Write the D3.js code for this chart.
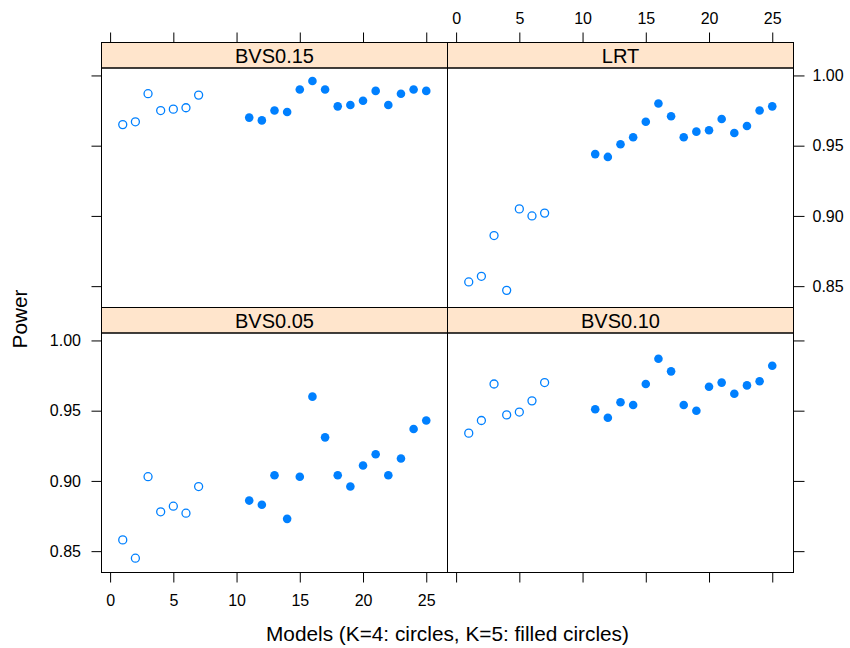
<!DOCTYPE html>
<html>
<head>
<meta charset="utf-8">
<script src="https://cdn.jsdelivr.net/npm/d3@7"></script>
<style>
  body { margin: 0; background: #fff; }
  svg { font-family: "Liberation Sans", Arial, Helvetica, sans-serif; }
  .axis text { font-size: 16px; fill: #000; }
  .axis line { stroke: #000; stroke-width: 1; }
  .strip-label { font-size: 20px; fill: #000; }
  .title { font-size: 20.8px; fill: #000; }
</style>
</head>
<body>
<div id="chart"></div>
<script>
// models: K=4 drawn as open circles, K=5 as filled circles
const modelsK4 = [1, 2, 3, 4, 5, 6, 7];
const modelsK5 = [11, 12, 13, 14, 15, 16, 17, 18, 19, 20, 21, 22, 23, 24, 25];

const panelNames = ["BVS0.05", "BVS0.10", "BVS0.15", "LRT"];

// power values
const bvs005K4 = [0.858, 0.845, 0.903, 0.878, 0.882, 0.877, 0.896];
const bvs005K5 = [0.886, 0.883, 0.904, 0.873, 0.903, 0.960, 0.931, 0.904, 0.896, 0.911, 0.919, 0.904, 0.916, 0.937, 0.943];

const bvs010K4 = [0.934, 0.943, 0.969, 0.947, 0.949, 0.957, 0.970];
const bvs010K5 = [0.951, 0.945, 0.956, 0.954, 0.969, 0.987, 0.978, 0.954, 0.950, 0.967, 0.970, 0.962, 0.968, 0.971, 0.982];

const bvs015K4 = [0.965, 0.967, 0.987, 0.975, 0.976, 0.977, 0.986];
const bvs015K5 = [0.970, 0.968, 0.975, 0.974, 0.990, 0.996, 0.990, 0.978, 0.979, 0.982, 0.989, 0.979, 0.987, 0.990, 0.989];

const lrtK4 = [0.853, 0.857, 0.886, 0.847, 0.905, 0.900, 0.902];
const lrtK5 = [0.944, 0.942, 0.951, 0.956, 0.967, 0.980, 0.971, 0.956, 0.960, 0.961, 0.969, 0.959, 0.964, 0.975, 0.978];

const xTicks = [0, 5, 10, 15, 20, 25];
const yTicks = [0.85, 0.90, 0.95, 1.00];

const width = 850, height = 648;
const col = "#0080ff";

const svg = d3.select("#chart").append("svg")
    .attr("width", width)
    .attr("height", height);

// lattice layout: 2 x 2 panels, strips on top
const panelW = 346, plotH = 239.5, stripH = 25.5;
const left0 = 101.5, top0 = 42.5;

const x = d3.scaleLinear().domain([-0.68, 26.68]).range([0, panelW]);
const y = d3.scaleLinear().domain([0.8348, 1.0053]).range([plotH, 0]);

// panel order as lattice draws it: bottom row first
const panels = [
    {name: panelNames[0], k4: bvs005K4, k5: bvs005K5, col: 0, row: 1},
    {name: panelNames[1], k4: bvs010K4, k5: bvs010K5, col: 1, row: 1},
    {name: panelNames[2], k4: bvs015K4, k5: bvs015K5, col: 0, row: 0},
    {name: panelNames[3], k4: lrtK4, k5: lrtK5, col: 1, row: 0}
];

panels.forEach(function (p) {
    const px = left0 + p.col * panelW;
    const py = top0 + p.row * (stripH + plotH);
    const g = svg.append("g").attr("transform", "translate(" + px + "," + py + ")");

    // strip
    g.append("rect")
        .attr("width", panelW)
        .attr("height", stripH)
        .attr("fill", "#ffe5cc")
        .attr("stroke", "#000")
        .attr("stroke-width", 1);
    g.append("text")
        .attr("class", "strip-label")
        .attr("x", panelW / 2)
        .attr("y", stripH / 2 + 7.6)
        .attr("text-anchor", "middle")
        .text(p.name);

    const plot = g.append("g").attr("transform", "translate(0," + stripH + ")");

    plot.append("rect")
        .attr("width", panelW)
        .attr("height", plotH)
        .attr("fill", "none")
        .attr("stroke", "#000")
        .attr("stroke-width", 1);

    // K=4: open circles
    plot.selectAll(".open")
        .data(modelsK4.map((m, i) => ({m: m, v: p.k4[i]})))
        .enter().append("circle")
        .attr("class", "open")
        .attr("cx", d => x(d.m))
        .attr("cy", d => y(d.v))
        .attr("r", 4)
        .attr("fill", "none")
        .attr("stroke", col)
        .attr("stroke-width", 1.3);

    // K=5: filled circles
    plot.selectAll(".filled")
        .data(modelsK5.map((m, i) => ({m: m, v: p.k5[i]})))
        .enter().append("circle")
        .attr("class", "filled")
        .attr("cx", d => x(d.m))
        .attr("cy", d => y(d.v))
        .attr("r", 4.3)
        .attr("fill", col);

    // alternating axes, like lattice
    const showTop = p.row === 0, showBottom = p.row === 1;
    const showLeft = p.col === 0, showRight = p.col === 1;

    if (showTop) {
        const ax = d3.axisTop(x).tickValues(xTicks).tickSize(10).tickSizeOuter(0).tickPadding(9);
        if (p.col === 0) ax.tickFormat("");
        g.append("g").attr("class", "axis").call(ax).call(s => s.select(".domain").remove());
    }
    if (showBottom) {
        const ax = d3.axisBottom(x).tickValues(xTicks).tickSize(10).tickSizeOuter(0).tickPadding(12);
        if (p.col === 1) ax.tickFormat("");
        plot.append("g").attr("class", "axis")
            .attr("transform", "translate(0," + plotH + ")")
            .call(ax).call(s => s.select(".domain").remove());
    }
    if (showLeft) {
        const ax = d3.axisLeft(y).tickValues(yTicks).tickSize(10).tickSizeOuter(0).tickPadding(10.5)
            .tickFormat(d3.format(".2f"));
        if (p.row === 0) ax.tickFormat("");
        plot.append("g").attr("class", "axis").call(ax).call(s => s.select(".domain").remove());
    }
    if (showRight) {
        const ax = d3.axisRight(y).tickValues(yTicks).tickSize(11).tickSizeOuter(0).tickPadding(8)
            .tickFormat(d3.format(".2f"));
        if (p.row === 1) ax.tickFormat("");
        plot.append("g").attr("class", "axis")
            .attr("transform", "translate(" + panelW + ",0)")
            .call(ax).call(s => s.select(".domain").remove());
    }
});

svg.selectAll(".axis text").attr("font-family", null);

// axis titles
svg.append("text")
    .attr("class", "title")
    .attr("x", left0 + panelW)
    .attr("y", 641)
    .attr("text-anchor", "middle")
    .text("Models (K=4: circles, K=5: filled circles)");

svg.append("text")
    .attr("class", "title")
    .attr("transform", "translate(27,319) rotate(-90)")
    .attr("text-anchor", "middle")
    .text("Power");
</script>
</body>
</html>
